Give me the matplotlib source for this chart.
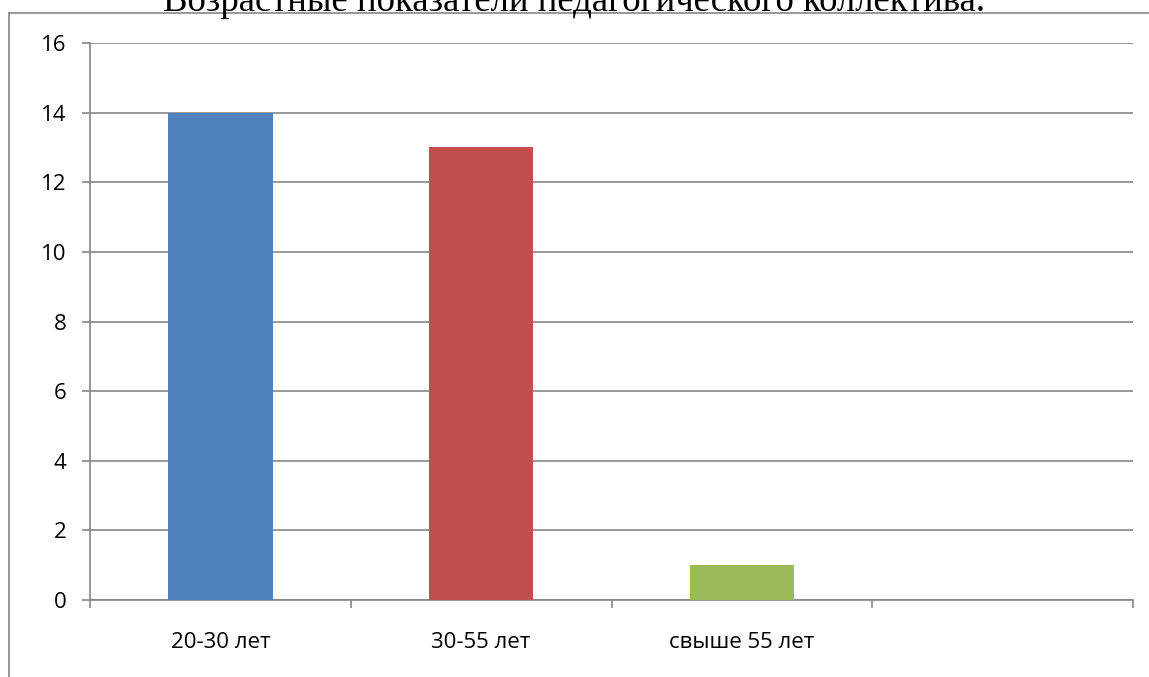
import matplotlib.pyplot as plt
from matplotlib.lines import Line2D

# --- Data ---
categories = ['20-30 лет', '30-55 лет', 'свыше 55 лет', '']
values = [14, 13, 1, 0]
bar_colors = ['#4F81BD', '#C0504D', '#9BBB59', '#FFFFFF']
y_ticks = [0, 2, 4, 6, 8, 10, 12, 14, 16]
title = 'Возрастные показатели педагогического коллектива.'

GRID = '#868686'
W, H = 1149, 677

plt.rcParams['font.family'] = ['Open Sans', 'DejaVu Sans']

fig = plt.figure(figsize=(W / 100, H / 100), dpi=100)
ax = fig.add_axes([90 / W, 1 - 600 / H, (1133 - 90) / W, (600 - 43) / H])

x = list(range(len(categories)))
ax.bar(x[:3], values[:3], width=0.4, color=bar_colors[:3], zorder=3)

ax.set_xlim(-0.5, len(categories) - 0.5)
ax.set_ylim(0, 16)
ax.set_yticks(y_ticks)
ax.set_yticklabels([str(v) for v in y_ticks])
ax.yaxis.grid(True, color=GRID, linewidth=1.2, zorder=0)

# labels at category centres, tick marks at category boundaries
ax.set_xticks(x)
ax.set_xticklabels(categories)
ax.set_xticks([i - 0.5 for i in range(len(categories) + 1)], minor=True)
ax.tick_params(axis='x', which='major', length=0, pad=23, labelsize=16)
ax.tick_params(axis='x', which='minor', length=6, width=1.2, color=GRID, direction='out')
ax.tick_params(axis='y', length=6, width=1.2, color=GRID, pad=11, labelsize=16)

for side in ['top', 'right']:
    ax.spines[side].set_visible(False)
for side in ['left', 'bottom']:
    ax.spines[side].set_color(GRID)
    ax.spines[side].set_linewidth(1.2)

# outer chart border (only left and top visible in the crop)
fig.add_artist(Line2D([9 / W, 9 / W], [0, 1 - 13 / H], color=GRID, linewidth=1.2,
                      transform=fig.transFigure))
fig.add_artist(Line2D([9 / W, 1], [1 - 13 / H, 1 - 13 / H], color=GRID, linewidth=1.2,
                      transform=fig.transFigure))

fig.text(574 / W, 1 - 11 / H, title, ha='center', va='baseline',
         family='Liberation Serif', fontsize=26.5)

fig.savefig('out.png', dpi=100)
